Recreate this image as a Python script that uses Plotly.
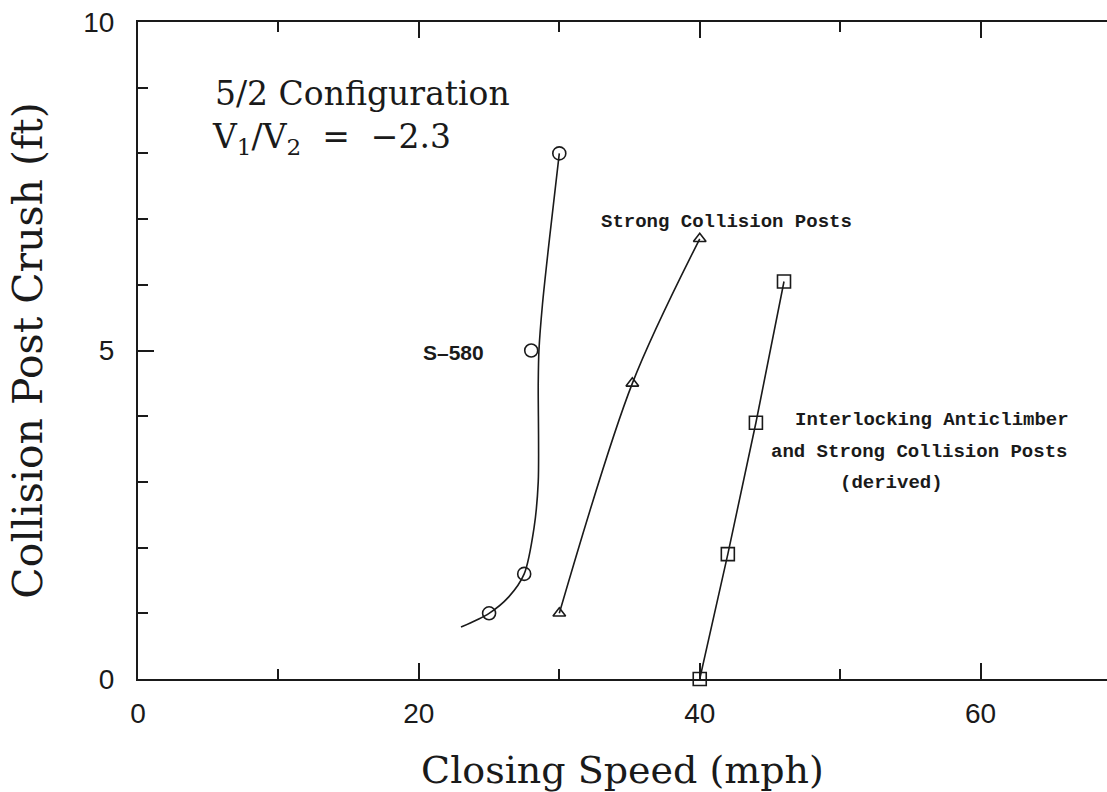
import plotly.graph_objects as go

# S-580 measured points and the hand-drawn fit curve through them
s580_speed = [25.0, 27.5, 28.0, 30.0]
s580_crush = [1.0, 1.6, 5.0, 8.0]
s580_fit_speed = [23.0, 25.0, 26.4, 27.5, 28.2, 28.5, 28.5, 28.55, 28.8, 29.3, 30.0]
s580_fit_crush = [0.79, 1.0, 1.25, 1.6, 2.3, 3.0, 4.5, 5.0, 5.7, 6.7, 8.0]

# Strong collision posts
strong_speed = [30.0, 35.2, 40.0]
strong_crush = [1.0, 4.5, 6.7]

# Interlocking anticlimber + strong collision posts (derived)
inter_speed = [40.0, 42.0, 44.0, 46.0]
inter_crush = [0.0, 1.9, 3.9, 6.05]

ink = "#1a1a1a"
serif = "DejaVu Serif"
mono = "Liberation Mono"

fig = go.Figure()

fig.add_trace(go.Scatter(x=s580_fit_speed, y=s580_fit_crush, mode="lines",
                         line=dict(color=ink, width=1.6, shape="spline", smoothing=0.8),
                         hoverinfo="skip"))
fig.add_trace(go.Scatter(x=s580_speed, y=s580_crush, mode="markers",
                         marker=dict(symbol="circle-open", size=13, color=ink,
                                     line=dict(width=1.6)),
                         name="S-580"))

fig.add_trace(go.Scatter(x=strong_speed, y=strong_crush, mode="lines+markers",
                         line=dict(color=ink, width=1.6, shape="spline", smoothing=0.9),
                         marker=dict(symbol="triangle-up-open", size=11, color=ink,
                                     line=dict(width=1.6)),
                         name="Strong Collision Posts"))

fig.add_trace(go.Scatter(x=inter_speed, y=inter_crush, mode="lines+markers",
                         line=dict(color=ink, width=1.6),
                         marker=dict(symbol="square-open", size=13, color=ink,
                                     line=dict(width=1.6)),
                         cliponaxis=False,
                         name="Interlocking Anticlimber"))

# text labels (positions in pixels, converted to data coords below)
fig.add_annotation(x=362, y=93, text="5/2 Configuration",
                   showarrow=False, font=dict(family=serif, size=33, color=ink))
fig.add_annotation(text="V<sub>1</sub>/V<sub>2</sub>  =  \u22122.3", x=331, y=138,
                   showarrow=False, font=dict(family=serif, size=33, color=ink))
fig.add_annotation(text="<b>Strong Collision Posts</b>", x=726, y=222,
                   showarrow=False, font=dict(family=mono, size=19, color=ink))
fig.add_annotation(text="<b>S\u2013580</b>", x=453, y=352,
                   showarrow=False, font=dict(family="Liberation Sans", size=21, color=ink))
fig.add_annotation(text="<b>Interlocking Anticlimber</b>", x=932, y=420,
                   showarrow=False, font=dict(family=mono, size=19, color=ink))
fig.add_annotation(text="<b>and Strong Collision Posts</b>", x=919, y=452,
                   showarrow=False, font=dict(family=mono, size=19, color=ink))
fig.add_annotation(text="<b>(derived)</b>", x=891, y=483,
                   showarrow=False, font=dict(family=mono, size=19, color=ink))

L, T, W, H = 138, 22, 1107 - 138, 679 - 22
X0, X1, Y0, Y1 = 0, 69, 0, 10
for a in fig.layout.annotations:
    a.x = X0 + (a.x - L) / W * (X1 - X0)
    a.y = Y1 - (a.y - T) / H * (Y1 - Y0)
    a.xref = "x"
    a.yref = "y"

fig.update_layout(
    width=1107, height=792,
    margin=dict(l=L, r=0, t=T, b=792 - 679, autoexpand=False),
    paper_bgcolor="white", plot_bgcolor="white",
    showlegend=False,
    font=dict(family=serif, color=ink),
    xaxis=dict(
        range=[X0, X1], showgrid=False, zeroline=False,
        showline=True, linecolor=ink, linewidth=2, mirror="ticks",
        ticks="inside", tickcolor=ink, tickwidth=2, ticklen=16,
        tickvals=[0, 20, 40, 60], ticklabelstandoff=8,
        minor=dict(tickvals=[10, 30, 50], ticks="inside", ticklen=10,
                   tickcolor=ink, tickwidth=2),
        tickfont=dict(family="Liberation Sans", size=28, color=ink),
        title=dict(text="Closing Speed (mph)", standoff=30,
                   font=dict(family=serif, size=38, color=ink)),
    ),
    yaxis=dict(
        range=[Y0, Y1], showgrid=False, zeroline=False,
        showline=True, linecolor=ink, linewidth=2,
        ticks="inside", tickcolor=ink, tickwidth=2, ticklen=16,
        tickvals=[0, 5, 10], ticklabelstandoff=16,
        minor=dict(tickvals=[1, 2, 3, 4, 6, 7, 8, 9], ticks="inside", ticklen=10,
                   tickcolor=ink, tickwidth=2),
        tickfont=dict(family="Liberation Sans", size=28, color=ink),
        title=dict(text="Collision Post Crush (ft)", standoff=28,
                   font=dict(family=serif, size=41, color=ink)),
    ),
)

fig.write_html("out.html", config={"displayModeBar": False},
               post_script="document.body.style.margin='0';")
